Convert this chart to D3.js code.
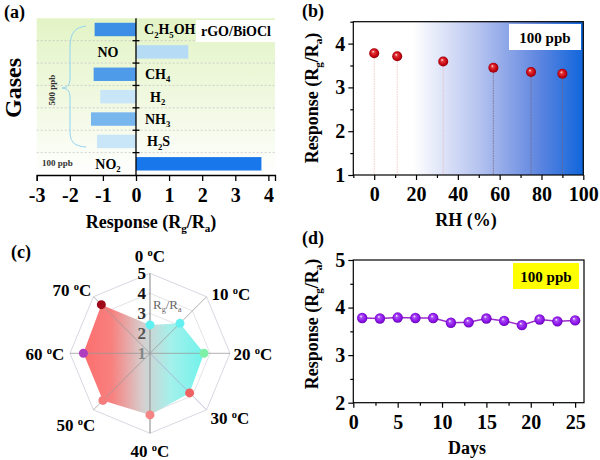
<!DOCTYPE html>
<html><head><meta charset="utf-8">
<script src="https://cdn.jsdelivr.net/npm/d3@7/dist/d3.min.js"></script>
<style>body{margin:0;background:#fff}svg{display:block}text{font-family:"Liberation Serif","DejaVu Serif",serif;font-weight:bold}</style>
</head><body><svg id="c" width="600" height="460"></svg>
<script>
// ---------- data ----------
const gases = ["C2H5OH","NO","CH4","H2","NH3","H2S","NO2"];
const gasLabels = [[["C",0],["2",1],["H",0],["5",1],["OH",0]],[["NO",0]],[["CH",0],["4",1]],[["H",0],["2",1]],[["NH",0],["3",1]],[["H",0],["2",1],["S",0]],[["NO",0],["2",1]]];
const gasResponse = [-1.25, 1.58, -1.28, -1.08, -1.36, -1.18, 3.79];
const gasColors = ["#3d8fe6","#b6dbf5","#4e9ce9","#c9e6f8","#78b7ee","#c9e6f8","#1877ea"];
const gasTicks = [-3,-2,-1,0,1,2,3,4];

const rh = [0, 11, 33, 57, 75, 90];
const rhResponse = [3.78, 3.71, 3.59, 3.45, 3.35, 3.31];
const rhTicks = [0,20,40,60,80,100];
const rhYTicks = [1,2,3,4];

const temps = ["0","10","20","30","40","50","60","70"];
const tempResponse = [2.42, 3.12, 3.70, 3.80, 4.08, 4.33, 4.33, 4.44];
const tempPointColors = ["#5ff0f2","#66eff0","#7ef0a8","#f06262","#f58585","#f47c7c","#b03cc0","#a00818"];
const radarLevels = [1,2,3,4,5];

const days = [1,3,5,7,9,11,13,15,17,19,21,23,25];
const dayResponse = [3.78, 3.77, 3.79, 3.78, 3.78, 3.68, 3.69, 3.77, 3.72, 3.63, 3.75, 3.71, 3.73];
const dayTicks = [0,5,10,15,20,25];
const dayYTicks = [2,3,4,5];

// ---------- helpers ----------
const svg = d3.select("#c");
const defs = svg.append("defs");
const TF = 20; // tick font size
function rich(g, x, y, parts, size, anchor, extra){
  const t = g.append("text").attr("x",x).attr("y",y).attr("font-size",size).attr("text-anchor",anchor||"start");
  let shift = 0;
  parts.forEach(p=>{
    const ts = t.append("tspan").text(p[0]);
    let target = 0;
    if(p[1]===1){ts.attr("font-size",size*0.62); target = size*0.22;}
    else if(p[1]===2){ts.attr("font-size",size*0.62); target = -size*0.38;}
    const dy = target - shift;
    if(dy!==0) ts.attr("dy",dy);
    shift = target;
  });
  if(extra) extra(t);
  return t;
}
function sphere(id, c0, c1, c2){
  const g = defs.append("radialGradient").attr("id",id).attr("cx","50%").attr("cy","50%").attr("r","55%").attr("fx","38%").attr("fy","32%");
  g.append("stop").attr("offset","0%").attr("stop-color","#fff");
  g.append("stop").attr("offset","25%").attr("stop-color",c0);
  g.append("stop").attr("offset","70%").attr("stop-color",c1);
  g.append("stop").attr("offset","100%").attr("stop-color",c2);
}
function styleTicks(a){
  a.select(".domain").remove();
  a.selectAll(".tick text").attr("font-size",TF).attr("font-family","Liberation Serif").attr("font-weight","bold").attr("fill","#000");
  a.selectAll(".tick line").attr("stroke-width",1.2);
}

// ================= Panel (a) =================
{
  const x = d3.scaleLinear().domain([-3,4.2]).range([36.7,275]);
  const y = d3.scaleBand().domain(gases).range([18.3,175]);
  const g = svg.append("g");
  const bg = defs.append("linearGradient").attr("id","bgA").attr("x1",0).attr("y1",0).attr("x2",0).attr("y2",1);
  bg.append("stop").attr("offset","0%").attr("stop-color","#e3f4c6");
  bg.append("stop").attr("offset","55%").attr("stop-color","#f1f9e2");
  bg.append("stop").attr("offset","100%").attr("stop-color","#ffffff");
  g.append("rect").attr("x",x(-3)).attr("y",18.3).attr("width",x(4.2)-x(-3)).attr("height",175-18.3).attr("fill","url(#bgA)");
  gases.slice(1).forEach(k=>{
    g.append("line").attr("x1",x(-3)).attr("x2",x(4.2)).attr("y1",y(k)).attr("y2",y(k))
      .attr("stroke","#c8c8c8").attr("stroke-dasharray","2,2").attr("stroke-width",0.8);
  });
  g.append("rect").attr("x",196).attr("y",20).attr("width",79).attr("height",22).attr("fill","#fff");
  g.append("text").attr("x",236).attr("y",36).attr("text-anchor","middle").attr("font-size",14).text("rGO/BiOCl");
  const bh = y.bandwidth()*0.6;
  g.selectAll(".bar").data(gases).enter().append("rect")
    .attr("x",(d,i)=>Math.min(x(0),x(gasResponse[i])))
    .attr("width",(d,i)=>Math.abs(x(gasResponse[i])-x(0)))
    .attr("y",d=>y(d)+(y.bandwidth()-bh)/2).attr("height",bh)
    .attr("fill",(d,i)=>gasColors[i]);
  g.append("line").attr("x1",x(0)).attr("x2",x(0)).attr("y1",18.3).attr("y2",175).attr("stroke","#000").attr("stroke-width",1.3);
  gases.slice(1).forEach(k=>{
    g.append("line").attr("x1",x(0)-3.5).attr("x2",x(0)+3.5).attr("y1",y(k)).attr("y2",y(k)).attr("stroke","#000").attr("stroke-width",1.3);
  });
  const ax = g.append("g").attr("transform","translate(0,175)")
    .call(d3.axisBottom(x).tickValues(gasTicks).tickSize(6).tickFormat(d=>d<0?"-"+Math.abs(d):d));
  ax.select(".domain").attr("stroke-width",1.3);
  ax.selectAll(".tick line").attr("stroke-width",1.3);
  ax.selectAll(".tick text").attr("font-size",TF).attr("font-family","Liberation Serif").attr("font-weight","bold").attr("fill","#000").attr("dy","0.9em");
  const lblPos = [[144,"start"],[108,"middle"],[145,"start"],[150,"start"],[145,"start"],[147,"start"],[108,"middle"]];
  gases.forEach((k,i)=>{
    rich(g, lblPos[i][0], y(k)+y.bandwidth()/2+5, gasLabels[i], 14, lblPos[i][1]);
  });
  g.append("text").attr("x",42).attr("y",166).attr("font-size",9).attr("fill","#333").text("100 ppb");
  g.append("text").attr("transform","translate(55,90) rotate(-90)").attr("text-anchor","middle").attr("font-size",9).attr("fill","#333").text("500 ppb");
  g.append("path").attr("d","M86,26 C72,28 70,36 70,50 L70,78 C70,84 68,88 62,88 C68,88 70,92 70,98 L70,130 C70,140 72,146 86,147")
    .attr("fill","none").attr("stroke","#8fd3f5").attr("stroke-width",1);
  svg.append("text").attr("x",4).attr("y",18).attr("font-size",18).text("(a)");
  svg.append("text").attr("transform","translate(21,88) rotate(-90)").attr("text-anchor","middle").attr("font-size",24).text("Gases");
  rich(svg, 151, 228, [["Response (R",0],["g",1],["/R",0],["a",1],[")",0]], 18, "middle");
}

// ================= Panel (b) =================
{
  const x = d3.scaleLinear().domain([-10,100]).range([353.3,583.3]);
  const y = d3.scaleLinear().domain([1,4.5]).range([175,21.7]);
  const g = svg.append("g");
  const bg = defs.append("linearGradient").attr("id","bgB").attr("x1",0).attr("y1",0).attr("x2",1).attr("y2",0);
  bg.append("stop").attr("offset","0%").attr("stop-color","#ffffff");
  bg.append("stop").attr("offset","26%").attr("stop-color","#ffffff");
  bg.append("stop").attr("offset","55%").attr("stop-color","#b4c2ef");
  bg.append("stop").attr("offset","80%").attr("stop-color","#6187e0");
  bg.append("stop").attr("offset","100%").attr("stop-color","#1066dc");
  g.append("rect").attr("x",x(-10)).attr("y",y(4.5)).attr("width",x(100)-x(-10)).attr("height",y(1)-y(4.5)).attr("fill","url(#bgB)");
  g.append("rect").attr("x",509).attr("y",24).attr("width",72).attr("height",26).attr("fill","#fff");
  g.append("text").attr("x",545).attr("y",43).attr("text-anchor","middle").attr("font-size",15).text("100 ppb");
  g.selectAll(".drop").data(rh).enter().append("line")
    .attr("x1",d=>x(d)).attr("x2",d=>x(d)).attr("y1",(d,i)=>y(rhResponse[i])).attr("y2",y(1))
    .attr("stroke",(d,i)=>i<3?"#efb0b0":"#7a6070").attr("stroke-width",0.7).attr("stroke-dasharray","1.5,1");
  sphere("sphR","#e23a3a","#c40010","#7a0008");
  g.selectAll(".pt").data(rh).enter().append("circle")
    .attr("cx",d=>x(d)).attr("cy",(d,i)=>y(rhResponse[i])).attr("r",5).attr("fill","url(#sphR)");
  g.append("rect").attr("x",x(-10)).attr("y",y(4.5)).attr("width",x(100)-x(-10)).attr("height",y(1)-y(4.5)).attr("fill","none").attr("stroke","#000").attr("stroke-width",1.2);
  const ax = g.append("g").attr("transform",`translate(0,${y(1)})`)
    .call(d3.axisBottom(x).tickValues(rhTicks).tickSize(5).tickSizeOuter(0).tickFormat(d3.format("d")));
  styleTicks(g.append("g").attr("transform",`translate(0,${y(1)})`).call(d3.axisBottom(x).tickValues([-10,10,30,50,70,90]).tickSize(3).tickFormat("")));
  const ay = g.append("g").attr("transform",`translate(${x(-10)},0)`)
    .call(d3.axisLeft(y).tickValues(rhYTicks).tickSize(5).tickSizeOuter(0).tickFormat(d3.format("d")));
  styleTicks(g.append("g").attr("transform",`translate(${x(-10)},0)`).call(d3.axisLeft(y).tickValues([1.5,2.5,3.5,4.5]).tickSize(3).tickFormat("")));
  styleTicks(ax); styleTicks(ay);
  ax.selectAll(".tick text").attr("dy","0.9em");
  svg.append("text").attr("x",302).attr("y",17).attr("font-size",18).text("(b)");
  rich(svg, 0, 0, [["Response (R",0],["g",1],["/R",0],["a",1],[")",0]], 18, "middle", t=>t.attr("transform","translate(318,98) rotate(-90)"));
  svg.append("text").attr("x",466).attr("y",226).attr("text-anchor","middle").attr("font-size",18).text("RH (%)");
}

// ================= Panel (c) =================
{
  const cx = 150, cy = 353.3;
  const r = d3.scaleLinear().domain([1,5]).range([0,80]);
  const n = temps.length;
  const ang = i => i*2*Math.PI/n;
  const pt = (i,v)=>[cx+r(v)*Math.sin(ang(i)), cy-r(v)*Math.cos(ang(i))];
  const g = svg.append("g");
  radarLevels.slice(1).forEach(l=>{
    g.append("polygon").attr("points",temps.map((d,i)=>pt(i,l).join(",")).join(" "))
      .attr("fill","none").attr("stroke",l===5?"#d8d8e2":"#e4e4ea").attr("stroke-width",1);
  });
  const fg = defs.append("linearGradient").attr("id","radFill").attr("gradientUnits","userSpaceOnUse")
    .attr("x1",cx-80).attr("y1",0).attr("x2",cx+60).attr("y2",0);
  fg.append("stop").attr("offset","0%").attr("stop-color","#ff5e5e");
  fg.append("stop").attr("offset","30%").attr("stop-color","#f77a78");
  fg.append("stop").attr("offset","52%").attr("stop-color","#d4cccc");
  fg.append("stop").attr("offset","72%").attr("stop-color","#9ff0ea");
  fg.append("stop").attr("offset","100%").attr("stop-color","#5ef2ea");
  g.append("polygon").attr("points",temps.map((d,i)=>pt(i,tempResponse[i]).join(",")).join(" "))
    .attr("fill","url(#radFill)").attr("fill-opacity",0.95);
  temps.forEach((d,i)=>{
    const p = pt(i,5);
    g.append("line").attr("x1",cx).attr("y1",cy).attr("x2",p[0]).attr("y2",p[1])
      .attr("stroke",i===3?"#a8a8d0":"#999").attr("stroke-width",i===0||i===4?1.4:0.9).attr("stroke-opacity",0.85);
  });
  const lc = ["#888","#555","#333","#111","#000"];
  radarLevels.forEach((l,k)=>{
    g.append("text").attr("x",cx-4).attr("y",cy-r(l)+6).attr("text-anchor","end").attr("font-size",17).attr("fill",lc[k]).text(l);
  });
  rich(g, 153, 309, [["R",0],["g",1],["/R",0],["a",1]], 13, "start", t=>t.attr("font-weight","normal").attr("fill","#666").selectAll("tspan").attr("font-weight","normal"));
  temps.forEach((d,i)=>{
    const p = pt(i,tempResponse[i]);
    g.append("circle").attr("cx",p[0]).attr("cy",p[1]).attr("r",4.5).attr("fill",tempPointColors[i]);
  });
  const lp = [[150,262,"middle"],[231,300,"middle"],[253,360,"middle"],[230,424,"middle"],[150,457,"middle"],[76,431,"middle"],[45,360,"middle"],[72,296,"middle"]];
  temps.forEach((d,i)=>{
    rich(g, lp[i][0], lp[i][1], [[d+" ",0],["o",2],["C",0]], 17, lp[i][2]);
  });
  svg.append("text").attr("x",11).attr("y",258).attr("font-size",18).text("(c)");
}

// ================= Panel (d) =================
{
  const x = d3.scaleLinear().domain([0,26]).range([353.3,584]);
  const y = d3.scaleLinear().domain([2,5]).range([402.7,260]);
  const g = svg.append("g");
  g.append("rect").attr("x",513).attr("y",263).attr("width",66).attr("height",26).attr("fill","#ffff00");
  g.append("text").attr("x",546).attr("y",282).attr("text-anchor","middle").attr("font-size",15).text("100 ppb");
  const line = d3.line().x((d,i)=>x(d)).y((d,i)=>y(dayResponse[i]));
  g.append("path").datum(days).attr("d",line).attr("fill","none").attr("stroke","#9a2ccc").attr("stroke-width",1.5);
  sphere("sphP","#a94cf2","#8a10e8","#5a08a0");
  g.selectAll(".pt").data(days).enter().append("circle")
    .attr("cx",d=>x(d)).attr("cy",(d,i)=>y(dayResponse[i])).attr("r",5.2).attr("fill","url(#sphP)");
  g.append("rect").attr("x",x(0)).attr("y",y(5)).attr("width",x(26)-x(0)).attr("height",y(2)-y(5)).attr("fill","none").attr("stroke","#000").attr("stroke-width",1.2);
  const ax = g.append("g").attr("transform",`translate(0,${y(2)})`).call(d3.axisBottom(x).tickValues(dayTicks).tickSize(5).tickSizeOuter(0).tickFormat(d3.format("d")));
  styleTicks(g.append("g").attr("transform",`translate(0,${y(2)})`).call(d3.axisBottom(x).tickValues([2.5,7.5,12.5,17.5,22.5]).tickSize(3).tickFormat("")));
  const ay = g.append("g").attr("transform",`translate(${x(0)},0)`).call(d3.axisLeft(y).tickValues(dayYTicks).tickSize(5).tickSizeOuter(0).tickFormat(d3.format("d")));
  styleTicks(g.append("g").attr("transform",`translate(${x(0)},0)`).call(d3.axisLeft(y).tickValues([2.5,3.5,4.5]).tickSize(3).tickFormat("")));
  styleTicks(ax); styleTicks(ay);
  ax.selectAll(".tick text").attr("dy","0.9em");
  svg.append("text").attr("x",302).attr("y",244).attr("font-size",18).text("(d)");
  rich(svg, 0, 0, [["Response (R",0],["g",1],["/R",0],["a",1],[")",0]], 18, "middle", t=>t.attr("transform","translate(318,324) rotate(-90)"));
  svg.append("text").attr("x",467).attr("y",454).attr("text-anchor","middle").attr("font-size",18).text("Days");
}
</script></body></html>
